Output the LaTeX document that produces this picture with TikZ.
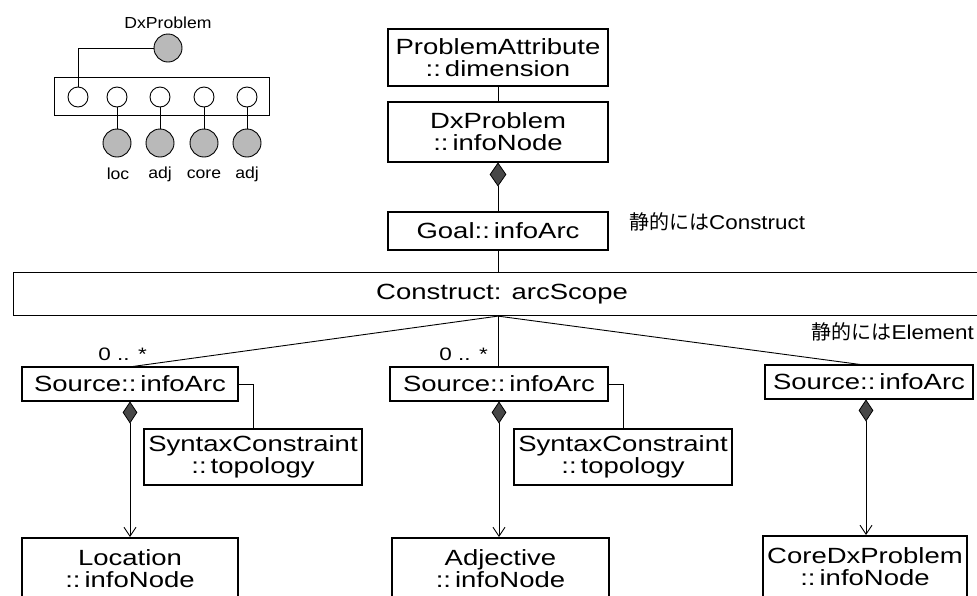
\documentclass[tikz,border=0pt]{standalone}
\usepackage{fontspec}
\setmainfont{Liberation Sans}
\newfontfamily\boxfont[FakeStretch=1.25]{Liberation Sans}
\newfontfamily\smallfont[FakeStretch=1.1]{Liberation Sans}
\newfontfamily\notefont[FakeStretch=1.12]{Liberation Sans}
\newfontfamily\cjkfont{Noto Sans CJK JP}
\usetikzlibrary{shapes.geometric,arrows.meta,calc}
\newcommand{\dc}{::\kern4pt}
\begin{document}
\begin{tikzpicture}[x=1pt,y=-1pt,
  box/.style={draw, line width=1.1pt, fill=white, inner sep=0pt, align=center,
    font=\boxfont\fontsize{22}{22}\selectfont},
  bigbox/.style={box, line width=1.6pt},
  comp/.style={diamond, draw, line width=0.8pt, fill=black!72, inner sep=0pt},
  conn/.style={line width=0.9pt},
  navi/.style={conn, -{Straight Barb[length=9pt,width=12pt,line width=0.9pt]}},
  wcirc/.style={circle, draw, line width=0.9pt, fill=white, minimum size=20pt, inner sep=0pt},
  gcirc/.style={circle, draw, line width=0.9pt, fill=gray!55, minimum size=28pt, inner sep=0pt},
  smalltext/.style={inner sep=0pt, font=\smallfont\fontsize{16}{16}\selectfont},
  multtext/.style={inner sep=0pt, font=\boxfont\fontsize{18}{18}\selectfont},
  notetext/.style={inner sep=0pt, font=\notefont\fontsize{20}{20}\selectfont}
]
\useasboundingbox (0,0) rectangle (977,595);
\clip (0,0) rectangle (977,595);
\fill[white] (0,0) rectangle (977,595);

% ---------- mini diagram (top left) ----------
\node[smalltext] (tdx) at (168,23) {DxProblem};
\node[gcirc] (gdx) at (168,48) {};
\node[draw, line width=0.9pt, minimum width=215pt, minimum height=38pt, inner sep=0pt] (frame) at (161.5,96) {};
\node[wcirc] (w1) at (78,97) {};
\node[wcirc] (w2) at (117,97) {};
\node[wcirc] (w3) at (160,97) {};
\node[wcirc] (w4) at (204,97) {};
\node[wcirc] (w5) at (247,97) {};
\node[gcirc] (g2) at (117,143) {};
\node[gcirc] (g3) at (160,143) {};
\node[gcirc] (g4) at (204,143) {};
\node[gcirc] (g5) at (247,143) {};
\node[smalltext] (l2) at (118,174) {loc};
\node[smalltext] (l3) at (160,174) {adj};
\node[smalltext] (l4) at (204,174) {core};
\node[smalltext] (l5) at (247,174) {adj};
\draw[conn] (gdx.west) -| (w1.north);
\foreach \i in {2,3,4,5} { \draw[conn] (w\i.south) -- (g\i.north); }

% ---------- main column ----------
\node[box, minimum width=220pt, minimum height=57pt] (pa) at (498,57.5) {ProblemAttribute\\\dc dimension};
\node[box, minimum width=220pt, minimum height=60pt] (dx) at (498,132) {DxProblem\\\dc infoNode};
\node[comp, minimum width=16pt, minimum height=23pt, anchor=north] (d0) at (dx.south) {};
\node[box, minimum width=220pt, minimum height=38pt] (goal) at (498,231) {Goal\dc infoArc};
\node[box, minimum width=977pt, minimum height=43pt, anchor=north west] (cons) at (13,272) {Construct: arcScope};

\draw[conn] (pa.south) -- (dx.north);
\draw[conn] (d0.south) -- (goal.north);
\draw[conn] (goal.south) -- (goal.south |- cons.north);

\node[notetext, anchor=west] (jc) at (629,222) {{\cjkfont 静的には}Construct};

% ---------- sources ----------
\node[box, minimum width=216pt, minimum height=34pt] (s1) at (130,384) {Source\dc infoArc};
\node[box, minimum width=218pt, minimum height=34pt] (s2) at (499,384) {Source\dc infoArc};
\node[box, minimum width=208pt, minimum height=34pt] (s3) at (869,382) {Source\dc infoArc};

\coordinate (fan) at (cons.south -| goal.south);
\draw[conn] (fan) -- ($(s1.north)+(3,0)$);
\draw[conn] (fan) -- (fan |- s2.north);
\draw[conn] (fan) -- ($(s3.north)+(-9,0)$);

\node[multtext, anchor=base east] (m1) at (147,360) {0 .. *};
\node[multtext, anchor=base east] (m2) at (488,360) {0 .. *};
\node[notetext, anchor=east] (je) at (974,332) {{\cjkfont 静的には}Element};

% ---------- syntax constraints ----------
\node[box, minimum width=218pt, minimum height=56pt] (sc1) at (253,457) {SyntaxConstraint\\\dc topology};
\node[box, minimum width=218pt, minimum height=56pt] (sc2) at (623,457) {SyntaxConstraint\\\dc topology};
\draw[conn] (s1.east) -| (sc1.north);
\draw[conn] (s2.east) -| (sc2.north);

% ---------- composition diamonds and targets ----------
\node[comp, minimum width=14pt, minimum height=21pt, anchor=north] (d1) at (s1.south) {};
\node[comp, minimum width=14pt, minimum height=21pt, anchor=north] (d2) at (s2.south) {};
\node[comp, minimum width=14pt, minimum height=21pt, anchor=north] (d3) at ($(s3.south)+(-3,0)$) {};

\node[bigbox, minimum width=216pt, minimum height=62pt, anchor=north] (loc) at (130,537) {Location\\\dc infoNode};
\node[bigbox, minimum width=217pt, minimum height=62pt, anchor=north] (adj) at (500.5,537) {Adjective\\\dc infoNode};
\node[bigbox, minimum width=204pt, minimum height=62pt, anchor=north] (core) at (865,535) {CoreDxProblem\\\dc infoNode};

\draw[navi] (d1.south) -- (d1.south |- loc.north);
\draw[navi] (d2.south) -- (d2.south |- adj.north);
\draw[navi] (d3.south) -- (d3.south |- core.north);
\end{tikzpicture}
\end{document}
